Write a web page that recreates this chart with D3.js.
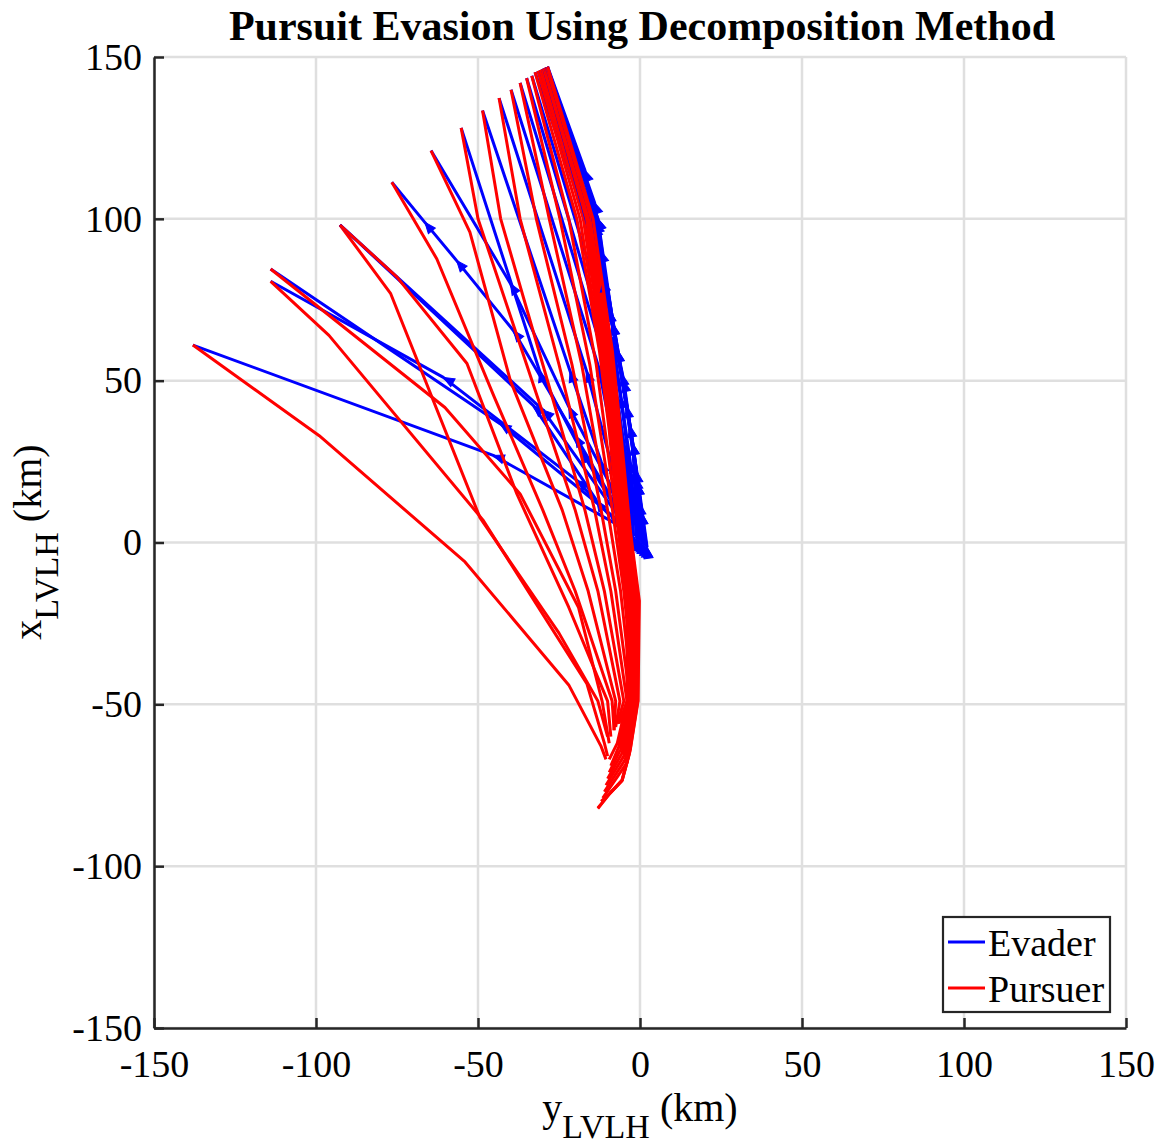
<!DOCTYPE html>
<html>
<head>
<meta charset="utf-8">
<script src="https://cdn.jsdelivr.net/npm/d3@7"></script>
<style>
  body { margin: 0; background: #fff; }
  text { font-family: "Liberation Serif", "Times New Roman", serif; fill: #000; }
</style>
</head>
<body>
<div id="chart"></div>
<script>
// axis ticks (km)
var xTicks = [-150, -100, -50, 0, 50, 100, 150];
var yTicks = [-150, -100, -50, 0, 50, 100, 150];
var legendLabels = ["Evader", "Pursuer"];

// each path is a list of [yLVLH, xLVLH] points, from start to capture point
var evaderPaths = [
  [[-6, 5], [-45.3, 26.9], [-138, 61]],
  [[-9, 8], [-19.5, 19.2], [-60.7, 51], [-114, 80.7]],
  [[-7, 7], [-43.2, 36.7], [-114, 84.5]],
  [[-13.4, 13], [-32.9, 42.3], [-92.6, 98.1]],
  [[-8, 10], [-30, 41], [-92.6, 98.1]],
  [[-6, 9], [-20, 33], [-39.1, 65.5], [-56.6, 87.1], [-66.4, 98.9], [-76.6, 111.3]],
  [[-5, 10], [-22, 42], [-40, 80], [-64.5, 121.1]],
  [[-6, 8], [-18, 28], [-31, 53], [-55.2, 128.1]],
  [[-5, 6], [-12, 25], [-21.6, 53], [-48.6, 133.5]],
  [[-4, 5], [-9, 25], [-16.5, 53], [-43.5, 137.3]],
  [[-4, 4], [-7, 25], [-13, 55], [-39.8, 139.9]],
  [[-3, 3], [-5, 25], [-11, 57], [-37, 142]],
  [[-2, 2], [-4, 25], [-9.5, 58], [-35, 143.5]],
  [[-1, 1], [-3, 25], [-8, 60], [-33.4, 144.2]],
  [[-3, 3], [-4, 22], [-7, 45], [-10, 65], [-15, 95], [-32.4, 145.3]],
  [[-2, 2], [-3, 22], [-6, 45], [-9.5, 65], [-14.5, 96], [-31.5, 145.7]],
  [[-1, 1.5], [-2.2, 30.6], [-8.3, 67.6], [-14, 98], [-30.8, 146]],
  [[-0.5, 1], [-1, 20], [-6.8, 59.3], [-13.5, 99], [-30.2, 146.3]],
  [[0, 0.5], [-0.6, 18.2], [-5, 50], [-11.4, 80.9], [-29.7, 146.5]],
  [[0.5, 0], [0.6, 9], [-2.2, 30.6], [-9.3, 71.7], [-13, 100], [-29.3, 146.7]],
  [[1, -0.5], [0, 12], [-4, 42], [-8.3, 67.6], [-13, 100], [-29, 146.8]],
  [[1.5, -1], [-0.6, 18.2], [-6.8, 59.3], [-12, 90], [-28.8, 146.9]],
  [[2, -1.2], [0.6, 9], [-3, 36], [-9.3, 71.7], [-14, 105], [-28.6, 147]],
  [[2.2, -1.5], [-1, 22], [-5.5, 52], [-11.4, 80.9], [-17, 115], [-28.5, 147]]
];

var pursuerPaths = [
  [[-10.5, -67], [-12, -63], [-22, -44], [-54, -6], [-99, 33], [-138, 61]],
  [[-10, -66], [-11, -62], [-16.4, -43.6], [-48.5, 7], [-96, 64], [-114, 80.7]],
  [[-9.5, -62], [-11.7, -49], [-19, -20], [-37, 15], [-60.2, 41.7], [-114, 84.5]],
  [[-10, -60], [-13, -49], [-25, -28], [-49.4, 7.7], [-77, 77], [-92.6, 98.1]],
  [[-9, -60], [-10, -49], [-22, -20], [-38, 15], [-53.4, 55.3], [-75, 82], [-92.6, 98.1]],
  [[-8, -58], [-8.6, -49], [-20, -15], [-30, 10], [-45, 45], [-62.7, 87.6], [-76.6, 111.3]],
  [[-8, -58], [-7.5, -49], [-16, -15], [-24, 10], [-40, 50], [-52.5, 95.9], [-64.5, 121.1]],
  [[-7.5, -57], [-6.2, -49], [-13, -15], [-20, 10], [-35, 55], [-50, 100], [-55.2, 128.1]],
  [[-7, -56], [-5, -49], [-11, -15], [-17, 10], [-30, 55], [-43, 100], [-48.6, 133.5]],
  [[-6.5, -56], [-4, -49], [-9, -15], [-14, 10], [-25, 55], [-37, 100], [-43.5, 137.3]],
  [[-6, -55], [-3, -49], [-7.5, -15], [-12, 10], [-21, 55], [-32, 100], [-39.8, 139.9]],
  [[-6, -55], [-2.2, -49], [-6, -15], [-10, 10], [-18, 55], [-28, 100], [-37, 142]],
  [[-5.5, -54], [-1.5, -49], [-5, -15], [-8.5, 10], [-15.5, 55], [-24.7, 100], [-35, 143.5]],
  [[-5, -54], [-1, -49], [-4.5, -15], [-7.5, 10], [-13.5, 55], [-22, 100], [-33.4, 144.2]],
  [[-9.5, -67], [-7, -62], [-4, -49], [-4, -18], [-6.5, 3.7], [-9.5, 34.6], [-12.5, 59], [-19.5, 100], [-32.4, 145.3]],
  [[-9, -69], [-6.5, -63], [-3.5, -49], [-3.5, -18], [-6, 3.7], [-9, 34.6], [-12, 59], [-18.5, 100], [-31.5, 145.7]],
  [[-9.5, -71], [-6, -64], [-3, -49], [-3, -18], [-5.5, 3.7], [-8.5, 34.6], [-11.5, 59], [-17.5, 100], [-30.8, 146]],
  [[-10, -73], [-5.5, -65], [-2.5, -49], [-2.5, -18], [-5, 3.7], [-8, 34.6], [-11, 59], [-17, 100], [-30.2, 146.3]],
  [[-10.5, -75], [-5, -66], [-2, -49], [-2, -18], [-4.5, 3.7], [-7.5, 34.6], [-10.5, 59], [-16.5, 100], [-29.7, 146.5]],
  [[-11, -77], [-4.5, -67], [-1.6, -49], [-1.5, -18], [-4, 3.7], [-7, 34.6], [-10, 59], [-16, 100], [-29.3, 146.7]],
  [[-11.5, -79], [-4, -68], [-1.2, -49], [-1, -18], [-3.8, 3.7], [-6.8, 34.6], [-9.5, 59], [-15.5, 100], [-29, 146.8]],
  [[-12, -80], [-9.3, -77.5], [-5.5, -73.5], [-3.5, -66], [-0.9, -49], [-0.7, -18], [-3.5, 3.7], [-6.5, 34.6], [-9, 59], [-15, 100], [-28.8, 146.9]],
  [[-13, -82], [-9.3, -77.5], [-5.5, -73.5], [-3.2, -65], [-0.7, -49], [-0.4, -18], [-3.2, 3.7], [-6.2, 34.6], [-8.8, 59], [-14.8, 100], [-28.6, 147]],
  [[-13, -82.2], [-9.3, -77.5], [-5.6, -73.5], [-3, -64], [-0.6, -49], [-0.2, -18], [-3, 3.7], [-6, 34.6], [-8.5, 59], [-14.5, 100], [-28.5, 147]]
];

var evaderColor = "#0000ff";
var pursuerColor = "#ff0000";

var svgWidth = 1162;
var svgHeight = 1147;

// plot box in pixels
var margin = { top: 57, right: 36, bottom: 119, left: 154 };
var width = svgWidth - margin.left - margin.right;
var height = svgHeight - margin.top - margin.bottom;

var svg = d3.select("#chart")
  .append("svg")
  .attr("width", svgWidth)
  .attr("height", svgHeight);

var chartGroup = svg.append("g")
  .attr("transform", `translate(${margin.left}, ${margin.top})`);

var xScale = d3.scaleLinear().domain([-150, 150]).range([0, width]);
var yScale = d3.scaleLinear().domain([-150, 150]).range([height, 0]);

// grid
chartGroup.append("g").selectAll("line")
  .data(xTicks)
  .enter().append("line")
  .attr("x1", d => xScale(d)).attr("x2", d => xScale(d))
  .attr("y1", 0).attr("y2", height)
  .attr("stroke", "#dfdfdf").attr("stroke-width", 2.5);

chartGroup.append("g").selectAll("line")
  .data(yTicks)
  .enter().append("line")
  .attr("y1", d => yScale(d)).attr("y2", d => yScale(d))
  .attr("x1", 0).attr("x2", width)
  .attr("stroke", "#dfdfdf").attr("stroke-width", 2.5);

// trajectories
var line = d3.line()
  .x(d => xScale(d[0]))
  .y(d => yScale(d[1]));

var games = evaderPaths.map((e, i) => ({ evader: e, pursuer: pursuerPaths[i] }));

games.forEach(function (g) {
  var gg = chartGroup.append("g");
  gg.append("path")
    .attr("d", line(g.evader))
    .attr("fill", "none")
    .attr("stroke", evaderColor)
    .attr("stroke-width", 3)
    .attr("stroke-linejoin", "round");

  // arrow heads along the evader path
  g.evader.slice(0, -1).forEach(function (p, i) {
    var q = g.evader[i + 1];
    var x0 = xScale(p[0]), y0 = yScale(p[1]);
    var ang = Math.atan2(yScale(q[1]) - y0, xScale(q[0]) - x0);
    gg.append("path")
      .attr("d", "M0,0L-11,-4.5L-11,4.5Z")
      .attr("transform", `translate(${x0},${y0}) rotate(${ang * 180 / Math.PI})`)
      .attr("fill", evaderColor)
      .attr("stroke", evaderColor)
      .attr("stroke-width", 1);
  });

  gg.append("path")
    .attr("d", line(g.pursuer))
    .attr("fill", "none")
    .attr("stroke", pursuerColor)
    .attr("stroke-width", 3)
    .attr("stroke-linejoin", "round");
});

// axes
var bottomAxis = d3.axisBottom(xScale)
  .tickValues(xTicks)
  .tickFormat(d => String(d))
  .tickSizeInner(-10)
  .tickSizeOuter(0)
  .tickPadding(22);

var leftAxis = d3.axisLeft(yScale)
  .tickValues(yTicks)
  .tickFormat(d => String(d))
  .tickSizeInner(-10)
  .tickSizeOuter(0)
  .tickPadding(12);

var xAxisG = chartGroup.append("g")
  .attr("transform", `translate(0, ${height})`)
  .call(bottomAxis);

var yAxisG = chartGroup.append("g")
  .call(leftAxis);

[xAxisG, yAxisG].forEach(function (a) {
  a.select(".domain").attr("stroke", "#262626").attr("stroke-width", 2.5);
  a.selectAll(".tick line").attr("stroke", "#262626").attr("stroke-width", 2.5);
  a.selectAll(".tick text")
    .style("font-family", '"Liberation Serif", "Times New Roman", serif')
    .style("font-size", "38px")
    .attr("fill", "#000");
});

// title
svg.append("text")
  .attr("x", 642)
  .attr("y", 40)
  .attr("text-anchor", "middle")
  .style("font-size", "42px")
  .style("font-weight", "bold")
  .text("Pursuit Evasion Using Decomposition Method");

// x axis label
var xLabel = svg.append("text")
  .attr("x", 640)
  .attr("y", 1121)
  .attr("text-anchor", "middle")
  .style("font-size", "40px");
xLabel.append("tspan").text("y");
xLabel.append("tspan").attr("dy", 17).style("font-size", "34px").text("LVLH");
xLabel.append("tspan").attr("dy", -17).text(" (km)");

// y axis label
var yLabel = svg.append("text")
  .attr("transform", "translate(41, 542) rotate(-90)")
  .attr("text-anchor", "middle")
  .style("font-size", "40px");
yLabel.append("tspan").text("x");
yLabel.append("tspan").attr("dy", 17).style("font-size", "34px").text("LVLH");
yLabel.append("tspan").attr("dy", -17).text(" (km)");

// legend
var legend = svg.append("g");
legend.append("rect")
  .attr("x", 943).attr("y", 917)
  .attr("width", 167).attr("height", 95)
  .attr("fill", "#fff")
  .attr("stroke", "#262626")
  .attr("stroke-width", 2.2);

var legendColors = [evaderColor, pursuerColor];
legend.selectAll(".item")
  .data(legendLabels)
  .enter().append("g")
  .attr("class", "item")
  .attr("transform", (d, i) => `translate(0, ${942 + i * 46})`)
  .each(function (d, i) {
    var it = d3.select(this);
    it.append("line")
      .attr("x1", 948).attr("x2", 985)
      .attr("y1", 0).attr("y2", 0)
      .attr("stroke", legendColors[i])
      .attr("stroke-width", 3);
    it.append("text")
      .attr("x", 988)
      .attr("y", 14)
      .style("font-size", "38px")
      .text(d);
  });
</script>
</body>
</html>
